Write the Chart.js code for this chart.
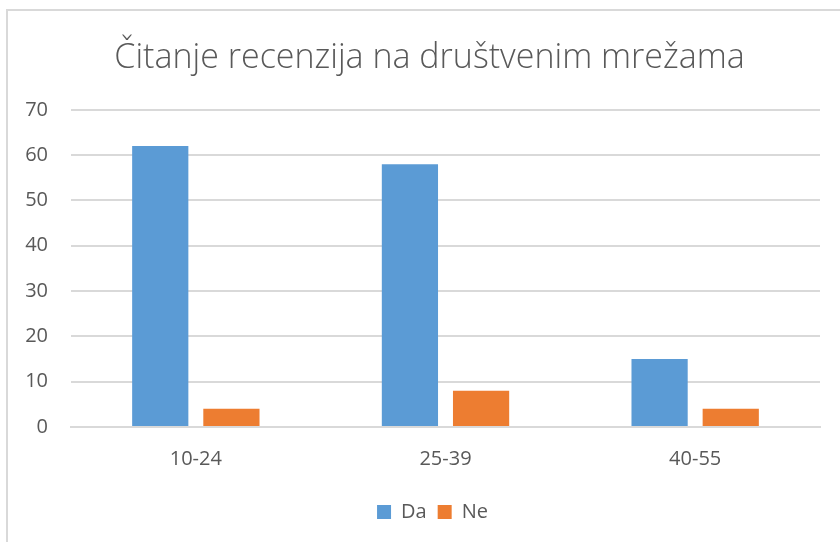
<!DOCTYPE html>
<html>
<head>
<meta charset="utf-8">
<script src="https://cdn.jsdelivr.net/npm/chart.js@4"></script>
<style>
  html, body { margin: 0; padding: 0; background: #fff; }
  #frame {
    position: absolute; left: 6px; top: 9px; width: 860px; height: 560px;
    border-left: 2px solid #d9d9d9; border-top: 2px solid #d9d9d9;
  }
  #wrap { position: absolute; left: 0; top: 0; width: 840px; height: 542px; }
</style>
</head>
<body>
<div id="frame"></div>
<div id="wrap"><canvas id="chart"></canvas></div>
<script>
// Data
const categories = ['10-24', '25-39', '40-55'];
const daValues = [62, 58, 15];
const neValues = [4, 8, 4];
const yTicks = [0, 10, 20, 30, 40, 50, 60, 70];

const textColor = '#595959';
const fontFamily = "'Open Sans', 'Noto Sans', sans-serif";

// title and legend sit a bit right of the canvas centre in the original
const shiftBlocks = {
  id: 'shiftBlocks',
  afterLayout(chart) {
    chart.titleBlock.left += 14;
    chart.titleBlock.right += 14;
    chart.legend.left += 17;
    chart.legend.right += 17;
  }
};

const ctx = document.getElementById('chart').getContext('2d');
new Chart(ctx, {
  type: 'bar',
  data: {
    labels: categories,
    datasets: [
      { label: 'Da', data: daValues, backgroundColor: '#5B9BD5' },
      { label: 'Ne', data: neValues, backgroundColor: '#ED7D31' }
    ]
  },
  options: {
    responsive: true,
    maintainAspectRatio: false,
    animation: false,
    layout: { padding: { left: 11, right: 20, top: 0, bottom: 10 } },
    datasets: { bar: { categoryPercentage: 0.57, barPercentage: 0.79 } },
    plugins: {
      title: {
        display: true,
        text: 'Čitanje recenzija na društvenim mrežama',
        color: textColor,
        font: { family: fontFamily, size: 34, weight: 300 },
        padding: { top: 38, bottom: 31 }
      },
      legend: {
        position: 'bottom',
        labels: {
          color: textColor,
          font: { family: fontFamily, size: 20 },
          boxWidth: 14, boxHeight: 14,
          padding: 11
        }
      },
      tooltip: { enabled: false }
    },
    scales: {
      x: {
        grid: { display: false },
        border: { display: true, color: '#d9d9d9', width: 2 },
        ticks: { color: textColor, font: { family: fontFamily, size: 20 }, padding: 12 },
        afterFit: (s) => { s.height = 64; }
      },
      y: {
        min: 0, max: 70,
        afterBuildTicks: (s) => { s.ticks = yTicks.map(v => ({ value: v })); },
        grid: { color: '#d9d9d9', lineWidth: 2, drawTicks: false },
        border: { display: false },
        ticks: { color: textColor, font: { family: fontFamily, size: 20 }, padding: 23 },
        afterFit: (s) => { s.width = 60; }
      }
    }
  },
  plugins: [shiftBlocks]
});
</script>
</body>
</html>
